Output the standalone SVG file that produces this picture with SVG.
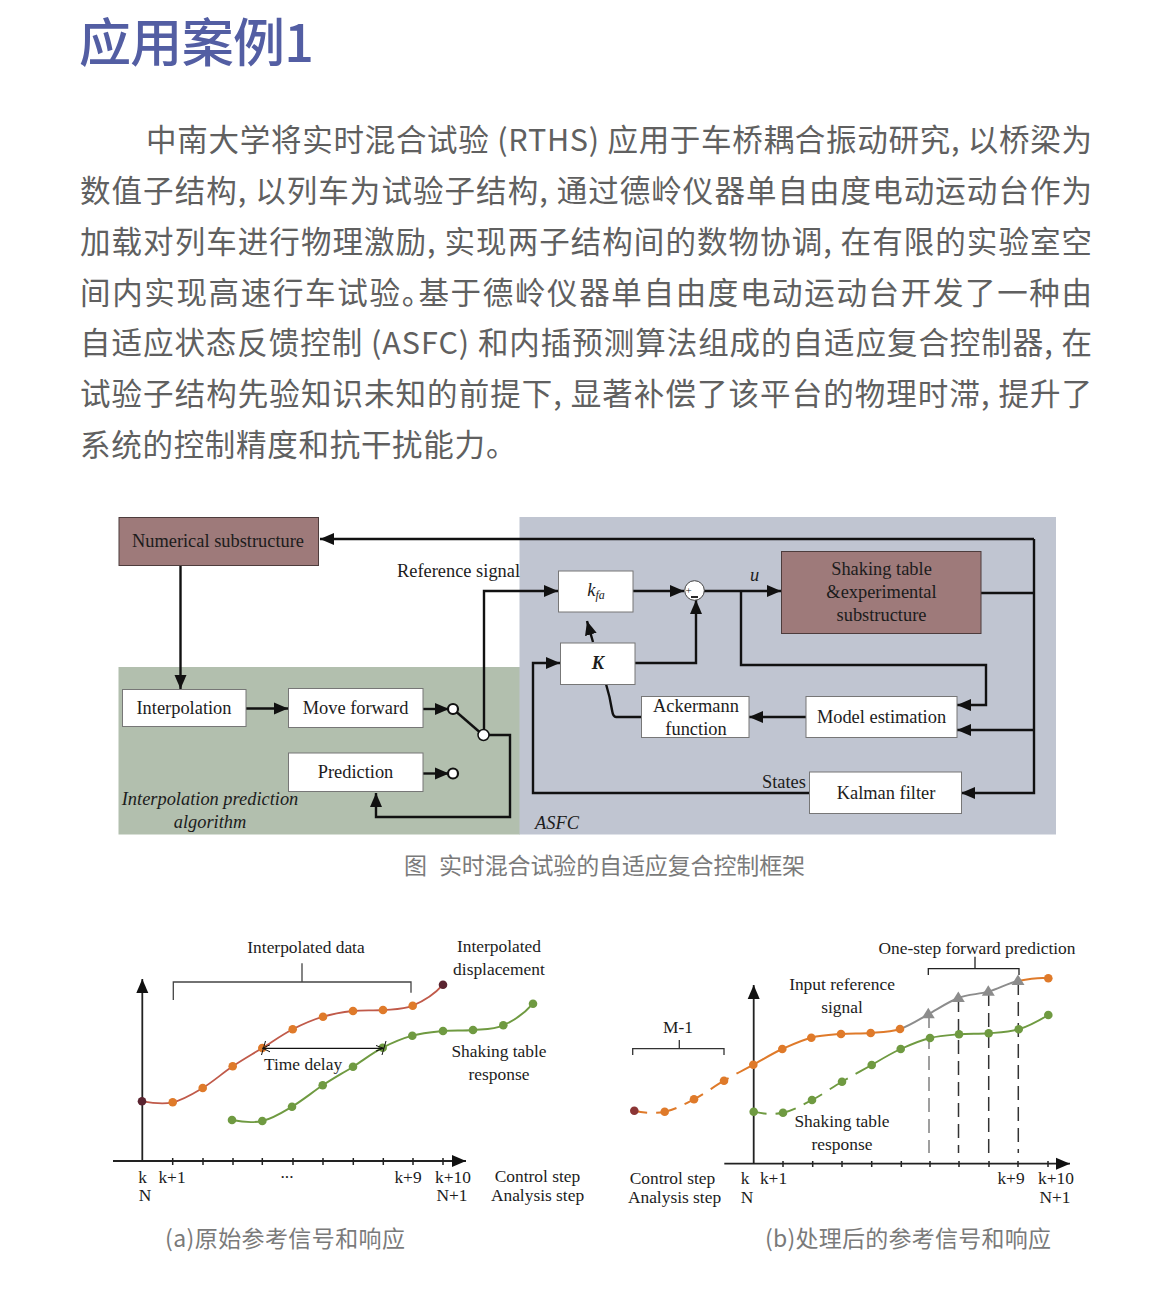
<svg xmlns="http://www.w3.org/2000/svg" width="1172" height="1304" viewBox="0 0 1172 1304">
<style>
.cjk{font-family:"Noto Sans CJK SC","Noto Sans",sans-serif}
.pal{font-feature-settings:"palt"}
.title{font-size:52px;font-weight:500;fill:#535ea3}
.p{font-size:30.5px;fill:#606060}
.cap{font-size:23px;fill:#7a7a7a}
.t{font-family:"Liberation Serif",serif;font-size:18.4px;fill:#1c1c1c}
.s{font-size:17.4px}
.m{text-anchor:middle}
.i{font-style:italic}
.box{fill:#fff;stroke:#777;stroke-width:1}
.sub{fill:#9e7a7a;stroke:#4d3c3c;stroke-width:1}
.c{fill:none;stroke:#111;stroke-width:2.4;stroke-linejoin:miter}
.a{marker-end:url(#ah)}
.ax{fill:none;stroke:#222;stroke-width:1.8}
.br{fill:none;stroke:#444;stroke-width:1.3}
.tk{stroke:#222;stroke-width:1.5}
.red{fill:none;stroke:#c05a4a;stroke-width:1.8}
.or{fill:none;stroke:#df7a2a;stroke-width:2}
.gr{fill:none;stroke:#6f9a41;stroke-width:1.9}
.gy{fill:none;stroke:#8c8c8c;stroke-width:1.9}
.dsh{stroke-dasharray:21 9;stroke-dashoffset:8}
.vd{stroke:#333;stroke-width:1.5;stroke-dasharray:14 7;fill:none}
.ora{fill:#df7a2a}.grn{fill:#6f9a41}.gyf{fill:#8c8c8c}.dk{fill:#5a2430}
</style>
<defs>
<marker id="ah" markerUnits="userSpaceOnUse" markerWidth="15" markerHeight="13" refX="14" refY="6.5" orient="auto"><path d="M0 0.5L14 6.5L0 12.5z" fill="#111"/></marker>
<marker id="ad" markerUnits="userSpaceOnUse" markerWidth="9" markerHeight="7" refX="8" refY="3.5" orient="auto"><path d="M0 0.5L8 3.5L0 6.5" fill="none" stroke="#111" stroke-width="1"/></marker>
<path id="tri" d="M0 -6.500L6.500 4L-6.500 4z"/>
</defs>
<rect width="1172" height="1304" fill="#fff"/>

<text class="cjk title" x="79" y="62" textLength="235" lengthAdjust="spacing">应用案例1</text>

<g id="paragraph" class="cjk p">
<text x="146" y="151" textLength="946" lengthAdjust="spacing">中南大学将实时混合试验 (RTHS) 应用于车桥耦合振动研究, 以桥梁为</text>
<text x="80" y="202" textLength="1012" lengthAdjust="spacing">数值子结构, 以列车为试验子结构, 通过德岭仪器单自由度电动运动台作为</text>
<text x="80" y="253" textLength="1012" lengthAdjust="spacing">加载对列车进行物理激励, 实现两子结构间的数物协调, 在有限的实验室空</text>
<text class="pal" x="80" y="304" textLength="1012" lengthAdjust="spacing">间内实现高速行车试验。基于德岭仪器单自由度电动运动台开发了一种由</text>
<text x="80" y="354" textLength="1012" lengthAdjust="spacing">自适应状态反馈控制 (ASFC) 和内插预测算法组成的自适应复合控制器, 在</text>
<text x="80" y="405" textLength="1012" lengthAdjust="spacing">试验子结构先验知识未知的前提下, 显著补偿了该平台的物理时滞, 提升了</text>
<text class="pal" x="80" y="456" textLength="421" lengthAdjust="spacing">系统的控制精度和抗干扰能力。</text>
</g>

<g id="regions">
<rect id="region-green" x="118.500" y="667" width="401.500" height="167.500" fill="#b2bfae"/>
<rect id="region-asfc" x="519.500" y="517" width="536.500" height="317.500" fill="#c0c5d1"/>
</g>

<g id="connectors">
<path class="c a" d="M1034 539H320"/>
<path class="c a" d="M180.500 565V689"/>
<path class="c a" d="M246 708.500H288"/>
<path class="c a" d="M423 709H449"/>
<path class="c a" d="M423 773.500H449"/>
<path class="c" d="M453 709L483 735"/>
<path class="c a" d="M484 735V591H558"/>
<path class="c a" d="M483 735H510V817H376V793"/>
<path class="c a" d="M633 591H684"/>
<path class="c a" d="M704 591H781"/>
<path class="c a" d="M741 591V665H986V705H957"/>
<path class="c" d="M981 593H1034"/>
<path class="c a" d="M1034 539V793H961"/>
<path class="c a" d="M1034 730H957"/>
<path class="c a" d="M809 793H533V663H560"/>
<path class="c a" d="M635 663H696V600"/>
<path class="c a" d="M593 642L587 621"/>
<path class="c" d="M641 717H616Q613 717 612 710Q610 697 606 684"/>
<path class="c a" d="M806 717H749"/>
</g>

<g id="numerical"><rect class="sub" x="119" y="517.500" width="199.500" height="48"/><text class="t m" x="218" y="547">Numerical substructure</text></g>
<g id="interpolation"><rect class="box" x="122.500" y="689.500" width="123.500" height="37"/><text class="t m" x="184" y="714">Interpolation</text></g>
<g id="move-forward"><rect class="box" x="288.500" y="688.500" width="134.500" height="39"/><text class="t m" x="355.500" y="714">Move forward</text></g>
<g id="prediction"><rect class="box" x="288.500" y="753" width="134.500" height="38.500"/><text class="t m" x="355.500" y="778">Prediction</text></g>
<g id="switch-a"><circle cx="453" cy="709" r="5" fill="#fff" stroke="#111" stroke-width="2.200"/></g>
<g id="switch-b"><circle cx="453" cy="773.500" r="5" fill="#fff" stroke="#111" stroke-width="2.200"/></g>
<g id="switch-c"><circle cx="483.500" cy="735" r="5.500" fill="#fff" stroke="#111" stroke-width="1.500"/></g>
<g id="kfa"><rect class="box" x="558.500" y="571" width="74.500" height="41"/><text class="t m i" x="596" y="596">k<tspan font-size="12" dy="3">fa</tspan></text></g>
<g id="k"><rect class="box" x="560.500" y="643" width="74.500" height="41.500"/><text class="t m i" x="598" y="669" font-weight="700">K</text></g>
<g id="sum"><circle cx="694.500" cy="590.500" r="9.800" fill="#fff" stroke="#444" stroke-width="1"/><text class="t" x="685.500" y="594" style="font-size:11px">+</text><path d="M691 597H698" stroke="#111" stroke-width="1.800"/></g>
<g id="shaking"><rect class="sub" x="781.500" y="551.500" width="199.500" height="82"/><text class="t m" x="881.500" y="575">Shaking table</text><text class="t m" x="881.500" y="598">&amp;experimental</text><text class="t m" x="881.500" y="621">substructure</text></g>
<g id="ackermann"><rect class="box" x="641.500" y="696.500" width="107.500" height="41"/><text class="t m" x="696" y="712">Ackermann</text><text class="t m" x="696" y="735">function</text></g>
<g id="model"><rect class="box" x="806" y="696.500" width="151" height="41"/><text class="t m" x="881.500" y="723">Model estimation</text></g>
<g id="kalman"><rect class="box" x="809.500" y="772" width="152" height="41.500"/><text class="t m" x="886" y="799">Kalman filter</text></g>

<g id="diagram-labels">
<text class="t" x="397" y="577">Reference signal</text>
<text class="t i" x="750" y="581">u</text>
<text class="t" x="762" y="788">States</text>
<text class="t i m" x="210" y="805">Interpolation prediction</text>
<text class="t i m" x="210" y="828">algorithm</text>
<text class="t i" x="535" y="829">ASFC</text>
</g>
<text class="cjk cap" x="404" y="874">图</text>
<text class="cjk cap" x="439" y="874" textLength="366" lengthAdjust="spacing">实时混合试验的自适应复合控制框架</text>

<g id="chart-a">
<path class="ax a" d="M142.300 1161V979"/>
<path class="ax a" d="M113 1161H466"/>
<g class="tk"><path d="M172.700 1158V1165M203 1158V1165M233 1158V1165M262.300 1158V1165M293 1158V1165M323 1158V1165M353.300 1158V1165M383.300 1158V1165M413 1158V1165M443 1158V1165"/></g>
<path class="br" d="M173.300 1000V982H411V992.700M302 982V963.300"/>
<path class="red" d="M142 1101.300C152 1103 162.700 1104.500 172.700 1102.300S192.700 1094 202.700 1088S222.700 1073 232.700 1066.300S252.300 1054.200 262.300 1048S282.700 1034.500 292.700 1029.300S313 1019.700 323 1016.700S343 1012.100 353 1011S373 1010.900 383 1010S402.700 1009.900 412.700 1005.700S434 995 443 984.700"/>
<path class="gr" d="M232 1120C242 1122 252 1123.200 262.300 1121S282 1112.700 292 1106.700S312.700 1092 322.700 1085.300S343 1073 353 1066.700S372.700 1052.900 382.700 1047.700S402.300 1038.500 412.300 1035.700S433 1032 443 1031S463 1031 473 1030S493.300 1029.700 503.300 1025.300S524 1014 533 1003.700"/>
<g class="dk"><circle cx="142" cy="1101.300" r="4.300"/><circle cx="443" cy="984.700" r="4.300"/></g>
<g class="ora"><circle cx="172.700" cy="1102.300" r="4.300"/><circle cx="202.700" cy="1088" r="4.300"/><circle cx="232.700" cy="1066.300" r="4.300"/><circle cx="262.300" cy="1048" r="4.300"/><circle cx="292.700" cy="1029.300" r="4.300"/><circle cx="323" cy="1016.700" r="4.300"/><circle cx="353" cy="1011" r="4.300"/><circle cx="383" cy="1010" r="4.300"/><circle cx="412.700" cy="1005.700" r="4.300"/></g>
<g class="grn"><circle cx="232" cy="1120" r="4.300"/><circle cx="262.300" cy="1121" r="4.300"/><circle cx="292" cy="1106.700" r="4.300"/><circle cx="322.700" cy="1085.300" r="4.300"/><circle cx="353" cy="1066.700" r="4.300"/><circle cx="382.700" cy="1047.700" r="4.300"/><circle cx="412.300" cy="1035.700" r="4.300"/><circle cx="443" cy="1031" r="4.300"/><circle cx="473" cy="1030" r="4.300"/><circle cx="503.300" cy="1025.300" r="4.300"/><circle cx="533" cy="1003.700" r="4.300"/></g>
<path d="M262.500 1048.300H383.500" fill="none" stroke="#111" stroke-width="1.200" marker-end="url(#ad)"/>
<path d="M262.500 1048.300L270 1044.800M262.500 1048.300L270 1051.800M265.500 1041L261.500 1055M386 1041L382 1055" fill="none" stroke="#111" stroke-width="1"/>
<text class="t s m" x="306" y="953">Interpolated data</text>
<text class="t s m" x="499" y="952">Interpolated</text>
<text class="t s m" x="499" y="975">displacement</text>
<text class="t s" x="264" y="1070">Time delay</text>
<text class="t s m" x="499" y="1057">Shaking table</text>
<text class="t s m" x="499" y="1080">response</text>
<text class="t s m" x="142.500" y="1183">k</text>
<text class="t s m" x="172" y="1183">k+1</text>
<text class="t s m" x="145" y="1201">N</text>
<text class="t s m" x="287" y="1178">...</text>
<text class="t s m" x="408" y="1183">k+9</text>
<text class="t s m" x="453" y="1183">k+10</text>
<text class="t s m" x="452" y="1201">N+1</text>
<text class="t s m" x="537.500" y="1182">Control step</text>
<text class="t s m" x="537.500" y="1201">Analysis step</text>
</g>

<g id="chart-b">
<path class="ax a" d="M753.700 1163.700V985"/>
<path class="ax a" d="M724.300 1163.700H1070"/>
<g class="tk"><path d="M783 1161V1167M812.700 1161V1167M842 1161V1167M871.700 1161V1167M901.300 1161V1167M930 1161V1167M959 1161V1167M989 1161V1167M1018 1161V1167M1048 1161V1167"/></g>
<path class="br" style="stroke:#333" d="M632.700 1055V1048.700H724V1055M679.300 1048.700V1040"/>
<path class="br" style="stroke:#222" d="M928.300 975V968.700H1019V975M975 968.700V956.700"/>
<path class="vd" style="stroke:#808080" d="M929 1014V1153"/>
<path class="vd" d="M958.500 998V1153"/>
<path class="vd" d="M988.700 992V1153"/>
<path class="vd" d="M1018.300 981V1153"/>
<path class="or dsh" d="M634.300 1110.700C644 1113 655 1113.600 664.700 1111.700S684 1104.500 694 1099.300S714 1086.500 724 1080.700S743.300 1070 753.300 1064.700"/>
<path class="or" d="M753.300 1064.700C763 1059.400 772.300 1053.500 782.300 1049S801.300 1040.200 811.300 1037.700S831 1034.800 841 1034S860.700 1033.800 870.700 1033S890 1032.100 900 1029"/>
<path class="gy" d="M900 1029C909 1026 919 1019.500 928.300 1014.300S948.300 1001.800 958.300 998S978.300 994.500 988.300 991.700S1008 983.200 1018 981"/>
<path class="or" d="M1018 981C1028 979 1038 977 1048.300 978.300"/>
<path class="gr dsh" d="M753.700 1111.700C763 1114 773 1114.700 783 1112.700S802 1105.200 812 1100S832 1087.500 842 1081.700S861.700 1070.500 871.700 1065"/>
<path class="gr" d="M871.700 1065C881 1059.500 890.700 1053.500 900.700 1049S920 1040.500 930 1038S949 1035.100 959 1034.300S978.700 1034.100 988.700 1033.300S1008.700 1032.300 1018.700 1029.300S1040 1020 1048.300 1015"/>
<circle cx="634.300" cy="1110.700" r="4.300" fill="#8b3535"/>
<g class="ora"><circle cx="664.700" cy="1111.700" r="4.300"/><circle cx="694" cy="1099.300" r="4.300"/><circle cx="724" cy="1080.700" r="4.300"/><circle cx="753.300" cy="1064.700" r="4.300"/><circle cx="782.300" cy="1049" r="4.300"/><circle cx="811.300" cy="1037.700" r="4.300"/><circle cx="841" cy="1034" r="4.300"/><circle cx="870.700" cy="1033" r="4.300"/><circle cx="900" cy="1029" r="4.300"/><circle cx="1048.300" cy="978.300" r="4.300"/></g>
<g class="gyf"><use href="#tri" x="928.300" y="1014.300"/><use href="#tri" x="958.300" y="998"/><use href="#tri" x="988.300" y="991.700"/><use href="#tri" x="1018" y="981"/></g>
<g class="grn"><circle cx="753.700" cy="1111.700" r="4.300"/><circle cx="783" cy="1112.700" r="4.300"/><circle cx="812" cy="1100" r="4.300"/><circle cx="842" cy="1081.700" r="4.300"/><circle cx="871.700" cy="1065" r="4.300"/><circle cx="900.700" cy="1049" r="4.300"/><circle cx="930" cy="1038" r="4.300"/><circle cx="959" cy="1034.300" r="4.300"/><circle cx="988.700" cy="1033.300" r="4.300"/><circle cx="1018.700" cy="1029.300" r="4.300"/><circle cx="1048.300" cy="1015" r="4.300"/></g>
<text class="t s m" x="977" y="954">One-step forward prediction</text>
<text class="t s m" x="842" y="990">Input reference</text>
<text class="t s m" x="842" y="1013">signal</text>
<text class="t s m" x="678" y="1033">M-1</text>
<text class="t s m" x="842" y="1127">Shaking table</text>
<text class="t s m" x="842" y="1150">response</text>
<text class="t s m" x="672.500" y="1184">Control step</text>
<text class="t s m" x="674.500" y="1203">Analysis step</text>
<text class="t s m" x="745" y="1184">k</text>
<text class="t s m" x="773.500" y="1184">k+1</text>
<text class="t s m" x="747" y="1203">N</text>
<text class="t s m" x="1011" y="1184">k+9</text>
<text class="t s m" x="1056" y="1184">k+10</text>
<text class="t s m" x="1055" y="1203">N+1</text>
</g>

<text class="cjk cap" x="165" y="1247" textLength="240" lengthAdjust="spacing">(a)原始参考信号和响应</text>
<text class="cjk cap" x="765" y="1247" textLength="286" lengthAdjust="spacing">(b)处理后的参考信号和响应</text>
</svg>
